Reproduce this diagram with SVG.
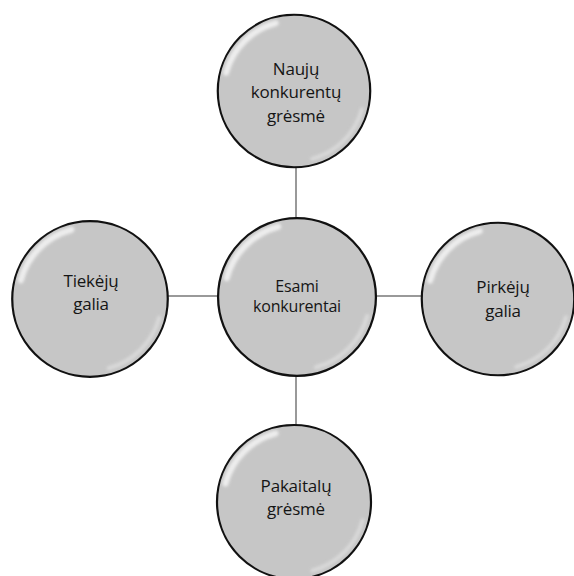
<svg xmlns="http://www.w3.org/2000/svg" width="574" height="576" viewBox="0 0 574 576">
<defs>
<filter id="soft" x="-20%" y="-20%" width="140%" height="140%"><feGaussianBlur stdDeviation="1.6"/></filter>
<g id="ball">
<circle cx="0" cy="0" r="77" fill="#c6c6c6" stroke="#111" stroke-width="2.2"/>
<path d="M -68.6 -18.4 A 71 71 0 0 1 -18.4 -68.6" fill="none" stroke="#f2f2f2" stroke-width="6" stroke-linecap="round" filter="url(#soft)" opacity="0.9"/>
<path d="M 68.6 18.4 A 71 71 0 0 1 18.4 68.6" fill="none" stroke="#e6e6e6" stroke-width="4" stroke-linecap="round" filter="url(#soft)" opacity="0.6"/>
</g>
</defs>
<style>
text{font-family:"Open Sans","Noto Sans","Liberation Sans",sans-serif;fill:#151515;text-anchor:middle;letter-spacing:-0.2px}
.big{font-size:17px}
.small{font-size:16px}
.conn{stroke:#999;stroke-width:2;fill:none}
</style>
<rect width="574" height="576" fill="#fff"/>
<g id="connectors">
<line class="conn" x1="296" y1="166" x2="296" y2="218"/>
<line class="conn" x1="296" y1="376" x2="296" y2="425"/>
<line class="conn" x1="167" y1="296" x2="218" y2="296"/>
<line class="conn" x1="376" y1="296" x2="423" y2="296"/>
</g>
<g id="n-top">
<use href="#ball" transform="translate(294,91) scale(0.99)"/>
<text class="big" x="296" y="75">Naujų</text>
<text class="big" x="296" y="98">konkurentų</text>
<text class="big" x="296" y="122">grėsmė</text>
</g>
<g id="n-center">
<use href="#ball" transform="translate(297,297) scale(1.025)"/>
<text class="small" x="297" y="292">Esami</text>
<text class="small" x="297" y="312">konkurentai</text>
</g>
<g id="n-left">
<use href="#ball" transform="translate(90,299) scale(1.01)"/>
<text class="big" x="91" y="287">Tiekėjų</text>
<text class="big" x="91" y="310">galia</text>
</g>
<g id="n-right">
<use href="#ball" transform="translate(498,299) scale(0.99)"/>
<text class="big" x="503" y="293">Pirkėjų</text>
<text class="big" x="503" y="317">galia</text>
</g>
<g id="n-bottom">
<use href="#ball" transform="translate(294,502)"/>
<text class="big" x="296" y="492">Pakaitalų</text>
<text class="big" x="296" y="515">grėsmė</text>
</g>
</svg>
